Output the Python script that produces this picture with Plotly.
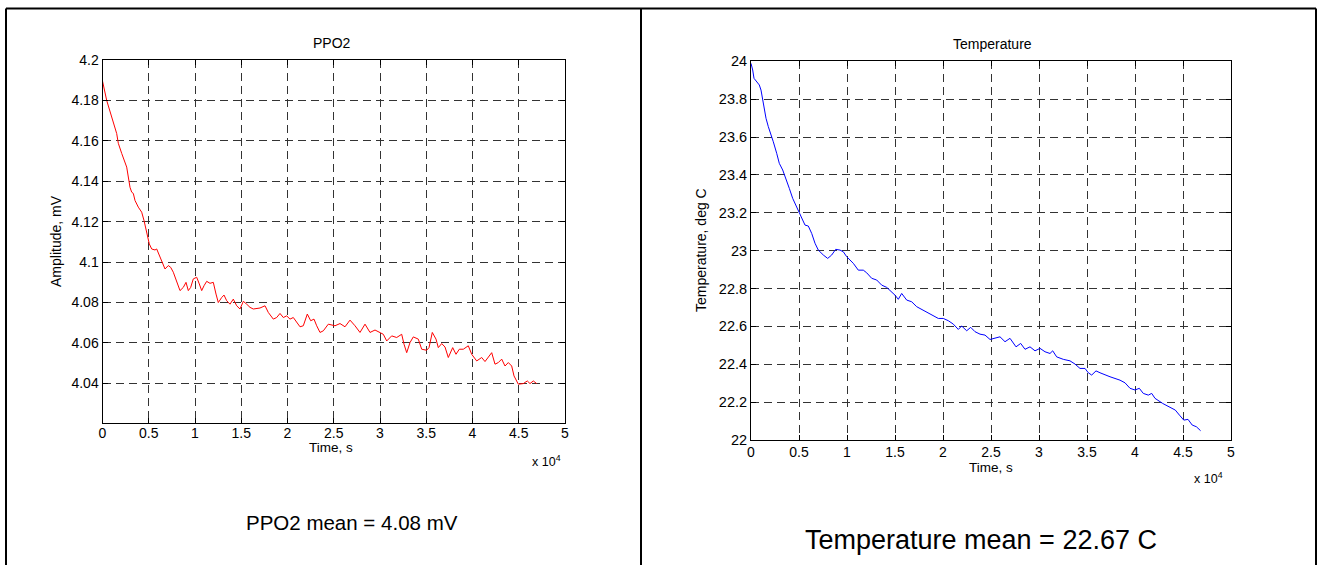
import plotly.graph_objects as go

W, H = 1322, 565
FONT = "Liberation Sans, Arial, sans-serif"

# PPO2 sensor record: elapsed time (s) and amplitude (mV)
ppo2_time = [0, 454, 1535, 1708, 2076, 2432, 2616, 2973, 3157, 3330, 3514, 3870,
             4238, 4486, 4778, 5059, 5319, 5676, 5859, 6400, 6757, 7114, 7373, 7654,
             8022, 8378, 8735, 9027, 9276, 9535, 9816, 10184, 10465, 10724, 10973,
             11265, 11622, 11978, 12270, 12519, 12886, 13135, 13427, 13784, 14141,
             14508, 14865, 15222, 15589, 15946, 16303, 17027, 17568, 17924, 18465,
             18832, 19189, 19546, 19914, 20270, 20627, 20995, 21351, 21708, 22141,
             22508, 22865, 23157, 23514, 23870, 24411, 25135, 25676, 26216, 26757,
             27297, 27838, 28378, 28919, 29459, 30000, 30357, 30724, 31265, 31805,
             32346, 32595, 32886, 33243, 33600, 34141, 34508, 35049, 35297, 35654,
             36054, 36303, 36670, 37027, 37384, 37859, 38216, 38573, 39005, 39546,
             39914, 40454, 40995, 41351, 41708, 42076, 42432, 42789, 43157, 43514,
             43870, 44238, 44486, 44951, 45492, 45924, 46216, 46573, 46941]
ppo2_mv = [4.1896, 4.18, 4.1636, 4.1588, 4.1538, 4.149, 4.147, 4.137, 4.1346, 4.134,
           4.1305, 4.1272, 4.1247, 4.1206, 4.114, 4.109, 4.1065, 4.106, 4.1065, 4.1007,
           4.0966, 4.0983, 4.0974, 4.095, 4.0908, 4.0859, 4.0875, 4.09, 4.0859, 4.0875,
           4.0917, 4.0925, 4.0892, 4.0859, 4.0883, 4.0905, 4.0895, 4.09, 4.0842, 4.08,
           4.0825, 4.0837, 4.0809, 4.0792, 4.0817, 4.0784, 4.0768, 4.0806, 4.0792,
           4.0776, 4.0768, 4.0773, 4.0784, 4.0751, 4.0718, 4.0726, 4.0746, 4.0726,
           4.0734, 4.0718, 4.0726, 4.0701, 4.068, 4.0685, 4.0743, 4.071, 4.0718,
           4.0685, 4.0652, 4.066, 4.0693, 4.0685, 4.0696, 4.068, 4.0713, 4.0685,
           4.0652, 4.0693, 4.0652, 4.0664, 4.0652, 4.0643, 4.061, 4.0635, 4.0627,
           4.0643, 4.0594, 4.0552, 4.0602, 4.063, 4.0619, 4.0569, 4.0564, 4.0577,
           4.0652, 4.0619, 4.0577, 4.0597, 4.058, 4.0528, 4.0577, 4.0544, 4.0569,
           4.0569, 4.0586, 4.0544, 4.0511, 4.0528, 4.0508, 4.0531, 4.0552, 4.0495,
           4.0503, 4.052, 4.0486, 4.0503, 4.0486, 4.0437, 4.0396, 4.0399, 4.0412,
           4.0399, 4.0412, 4.0399]

# Temperature record: elapsed time (s) and temperature (deg C)
temp_time = [0, 177, 313, 594, 865, 1042, 1281, 1563, 1802, 2052, 2323, 2677, 2948,
             3302, 3646, 3990, 4344, 4927, 5281, 5625, 5969, 6323, 6667, 7010, 7531,
             7990, 8406, 8823, 9271, 9615, 9969, 10313, 10656, 11177, 11698, 12052,
             12573, 13094, 13615, 14135, 14656, 15000, 15344, 15698, 16219, 16740,
             17260, 17948, 18469, 18990, 19510, 20031, 20552, 21073, 21594, 21948,
             22469, 22885, 23333, 23854, 24375, 24896, 25417, 25938, 26458, 26979,
             27604, 28094, 28542, 29063, 29583, 30104, 30625, 31146, 31427, 31844,
             32531, 33229, 33750, 34271, 34792, 35135, 35490, 35938, 36354, 36875,
             37396, 37917, 38438, 38958, 39479, 40000, 40448, 40865, 41385, 41740,
             42083, 42885, 43542, 44198, 44635, 45083, 45521, 45958, 46396, 46833]
temp_c = [23.989, 23.954, 23.91, 23.892, 23.875, 23.848, 23.778, 23.699, 23.655,
          23.62, 23.575, 23.514, 23.461, 23.426, 23.382, 23.329, 23.276, 23.214,
          23.171, 23.135, 23.13, 23.091, 23.039, 23.003, 22.977, 22.959, 22.977,
          23.007, 23.003, 22.994, 22.968, 22.95, 22.933, 22.897, 22.897, 22.883,
          22.854, 22.845, 22.818, 22.806, 22.783, 22.765, 22.743, 22.774, 22.739,
          22.73, 22.704, 22.686, 22.669, 22.655, 22.642, 22.642, 22.63, 22.612,
          22.584, 22.602, 22.577, 22.595, 22.572, 22.559, 22.554, 22.531, 22.537,
          22.545, 22.519, 22.537, 22.492, 22.51, 22.479, 22.492, 22.471, 22.484,
          22.466, 22.457, 22.471, 22.439, 22.426, 22.418, 22.401, 22.378, 22.378,
          22.355, 22.343, 22.365, 22.355, 22.343, 22.334, 22.325, 22.316, 22.302,
          22.273, 22.264, 22.273, 22.246, 22.237, 22.246, 22.22, 22.193, 22.175,
          22.158, 22.131, 22.105, 22.109, 22.079, 22.07, 22.049]

# Tick positions and labels
time_ticks = [0, 5000, 10000, 15000, 20000, 25000, 30000, 35000, 40000, 45000, 50000]
time_labels = ["0", "0.5", "1", "1.5", "2", "2.5", "3", "3.5", "4", "4.5", "5"]
ppo2_ticks = [4.04, 4.06, 4.08, 4.10, 4.12, 4.14, 4.16, 4.18, 4.20]
ppo2_labels = ["4.04", "4.06", "4.08", "4.1", "4.12", "4.14", "4.16", "4.18", "4.2"]
temp_ticks = [22.0, 22.2, 22.4, 22.6, 22.8, 23.0, 23.2, 23.4, 23.6, 23.8, 24.0]
temp_labels = ["22", "22.2", "22.4", "22.6", "22.8", "23", "23.2", "23.4", "23.6", "23.8", "24"]


def px(x):
    return x / W


def py(y):
    return 1 - y / H


fig = go.Figure()
fig.add_trace(go.Scatter(x=ppo2_time, y=ppo2_mv, mode="lines",
                         line=dict(color="#ff0000", width=1),
                         xaxis="x", yaxis="y", showlegend=False))
fig.add_trace(go.Scatter(x=temp_time, y=temp_c, mode="lines",
                         line=dict(color="#0000ff", width=1),
                         xaxis="x2", yaxis="y2", showlegend=False))

axis_common = dict(
    showline=True, linecolor="black", linewidth=1, mirror="ticks",
    ticks="inside", ticklen=5, tickcolor="black", tickwidth=1,
    showgrid=True, gridcolor="#333333", gridwidth=1, griddash="8px,5px",
    zeroline=False, fixedrange=True,
)

# Size comes from the container div (see write_html below)
fig.update_layout(
    autosize=True,
    margin=dict(l=0, r=0, t=0, b=0, autoexpand=False),
    paper_bgcolor="white", plot_bgcolor="white",
    font=dict(family=FONT, color="black", size=14),
    xaxis=dict(axis_common, domain=[px(102.5), px(565)], range=[0, 50000],
               tickvals=time_ticks, ticktext=time_labels, anchor="y",
               tickfont=dict(size=14), ticklabelstandoff=-3),
    yaxis=dict(axis_common, domain=[py(423), py(60)], range=[4.0204, 4.2],
               tickvals=ppo2_ticks, ticktext=ppo2_labels, anchor="x",
               tickfont=dict(size=14)),
    xaxis2=dict(axis_common, domain=[px(751), px(1231)], range=[0, 50000],
                tickvals=time_ticks, ticktext=time_labels, anchor="y2",
                tickfont=dict(size=14), ticklabelstandoff=-1),
    yaxis2=dict(axis_common, domain=[py(440), py(61.3)], range=[22, 24],
                tickvals=temp_ticks, ticktext=temp_labels, anchor="x2",
                tickfont=dict(size=14.5)),
)


def label(text, x, y, size=14, angle=0):
    fig.add_annotation(text=text, x=px(x), y=py(y), xref="paper", yref="paper",
                       showarrow=False, textangle=angle, xanchor="center",
                       yanchor="middle",
                       font=dict(family=FONT, size=size, color="black"))


# Panel titles, axis titles and exponent markers
label("PPO2", 332, 43)
label("Time, s", 331, 447.5, size=13.5)
label("x 10<sup>4</sup>", 546, 461, size=12.5)
label("Amplitude, mV", 56, 241, angle=-90)
label("PPO2 mean = 4.08 mV", 352, 522, size=20.5)

label("Temperature", 992, 44)
label("Time, s", 991, 467, size=13.5)
label("x 10<sup>4</sup>", 1208, 478, size=12.5)
label("Temperature, deg C", 701, 250, angle=-90)
label("Temperature mean = 22.67 C", 981, 540, size=27)

# Table frame around the two panels
frame = dict(color="black", width=2)
for x0, y0, x1, y1 in [(6, 8.5, 1316, 8.5), (6, 8.5, 6, 565),
                       (641, 8.5, 641, 565), (1316, 8.5, 1316, 565)]:
    fig.add_shape(type="line", xref="paper", yref="paper",
                  x0=px(x0), y0=py(y0), x1=px(x1), y1=py(y1), line=frame)

# The graph div is pinned to the top-left corner of the page at full window size
fig.write_html("out.html",
               default_width=f"{W}px; position:absolute; left:0; top:0",
               default_height=f"{H}px")
